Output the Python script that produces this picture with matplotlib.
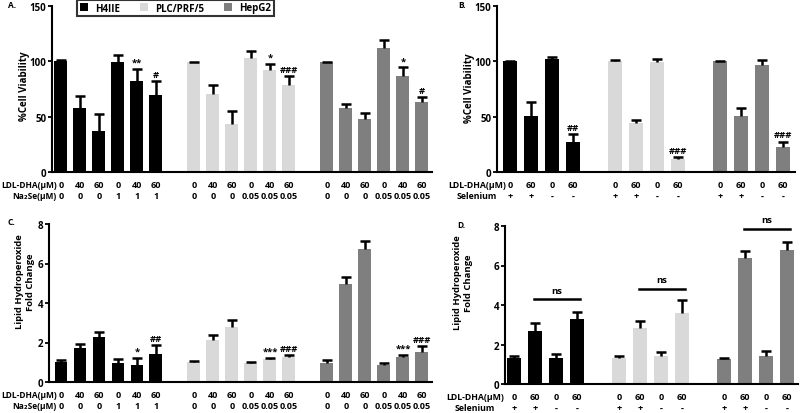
import numpy as np
import matplotlib
matplotlib.use('Agg')
import matplotlib.pyplot as plt
from matplotlib.patches import Patch

plt.rcParams['font.family'] = ['Open Sans', 'DejaVu Sans']
plt.rcParams['font.weight'] = 'bold'
plt.rcParams['font.size'] = 6.5

BLACK = '#000000'
LIGHT = '#d9d9d9'
DARK = '#7f7f7f'
cells = ['H4IIE', 'PLC/PRF/5', 'HepG2']
colors = [BLACK, LIGHT, DARK]

# panel A - cell viability, Na2Se
via_a = [[100, 58, 37, 99, 82, 70],
         [99, 70.5, 43, 103, 92.5, 78.5],
         [99, 57.5, 48, 112, 87, 63.5]]
via_a_err = [[0.8, 11, 15, 7, 11, 12],
             [0.8, 8.5, 12, 6, 5.5, 8],
             [0.8, 4, 5, 7.5, 7.5, 4]]
ldl_a = ['0', '40', '60', '0', '40', '60']
se_a = [['0', '0', '0', '1', '1', '1'],
        ['0', '0', '0', '0.05', '0.05', '0.05'],
        ['0', '0', '0', '0.05', '0.05', '0.05']]
sig_a = [{4: '**', 5: '#'}, {4: '*', 5: '###'}, {4: '*', 5: '#'}]

# panel B - cell viability, selenium +/-
via_b = [[100, 51, 102, 27],
         [100, 44, 99, 12],
         [100, 51, 97, 23]]
via_b_err = [[0.5, 12, 2, 7.5],
             [1, 3, 3, 1.5],
             [0.5, 6.5, 4.5, 4.5]]
ldl_b = ['0', '60', '0', '60']
se_b = ['+', '+', '-', '-']
sig_b = [{3: '##'}, {3: '###'}, {3: '###'}]

# panel C - lipid hydroperoxide, Na2Se
lp_c = [[1.0, 1.74, 2.27, 0.97, 0.88, 1.41],
        [1.0, 2.14, 2.78, 0.98, 1.16, 1.26],
        [0.98, 4.98, 6.75, 0.87, 1.25, 1.53]]
lp_c_err = [[0.09, 0.16, 0.25, 0.2, 0.35, 0.45],
            [0.05, 0.22, 0.36, 0.05, 0.06, 0.1],
            [0.11, 0.36, 0.39, 0.07, 0.13, 0.3]]
sig_c = [{4: '*', 5: '##'}, {4: '***', 5: '###'}, {4: '***', 5: '###'}]

# panel D - lipid hydroperoxide, selenium +/-
lp_d = [[1.31, 2.69, 1.31, 3.28],
        [1.31, 2.83, 1.43, 3.62],
        [1.28, 6.36, 1.40, 6.77]]
lp_d_err = [[0.12, 0.39, 0.21, 0.36],
            [0.1, 0.34, 0.17, 0.62],
            [0.03, 0.37, 0.25, 0.43]]
ns_d = [4.29, 4.83, 7.86]

W, H = 800, 414
fig = plt.figure(figsize=(W / 100, H / 100), dpi=100)


def box(l, r, t, b):
    return [l / W, 1 - b / H, (r - l) / W, (b - t) / H]


def panel(ax, vals, errs, sigs, ldl, se, ylim, yticks, xlim, bw):
    n = len(ldl)
    ticks, labels = [], []
    for g in range(3):
        pos = np.arange(n) + g * (n + 1)
        top = np.array(vals[g]) + np.array(errs[g])
        ax.bar(pos, vals[g], width=bw, color=colors[g], zorder=2)
        # upper error only, with a single cap
        ax.vlines(pos, vals[g], top, color='black', lw=1.8, zorder=3)
        ax.plot(pos, top, ls='none', marker='_', ms=7, mew=1.8, color='black', zorder=3)
        for i, s in sigs[g].items():
            ax.annotate(s, (pos[i], top[i]), xytext=(0, 1.5),
                        textcoords='offset points', ha='center', va='bottom', fontsize=6.8)
        ticks += list(pos)
        sel = se[g] if isinstance(se[0], list) else se
        labels += [a + '\n' + b for a, b in zip(ldl, sel)]
    ax.set_xticks(ticks)
    ax.set_xticklabels(labels, linespacing=1.3)
    ax.tick_params(axis='x', length=0, pad=6)
    ax.tick_params(axis='y', length=3, width=1.3, pad=1, labelsize=7)
    ax.set_ylim(*ylim)
    ax.set_yticks(yticks)
    ax.set_xlim(*xlim)
    for s in ['top', 'right']:
        ax.spines[s].set_visible(False)
    for s in ['left', 'bottom']:
        ax.spines[s].set_linewidth(1.5)


axA = fig.add_axes(box(52, 432, 7, 173))
panel(axA, via_a, via_a_err, sig_a, ldl_a, se_a, (0, 150), [0, 50, 100, 150], (-0.47, 19.53), 0.68)
axB = fig.add_axes(box(497, 795, 7, 173))
panel(axB, via_b, via_b_err, sig_b, ldl_b, se_b, (0, 150), [0, 50, 100, 150], (-0.62, 13.57), 0.66)
axC = fig.add_axes(box(49, 432, 225, 383))
panel(axC, lp_c, lp_c_err, sig_c, ldl_a, se_a, (0, 8), [0, 2, 4, 6, 8], (-0.63, 19.53), 0.68)
axD = fig.add_axes(box(505, 798, 227, 385))
panel(axD, lp_d, lp_d_err, [{}, {}, {}], ldl_b, se_b, (0, 8), [0, 2, 4, 6, 8], (-0.43, 13.52), 0.66)

# ns brackets in D
for g in range(3):
    x0 = 1 + g * 5 - 0.05
    x1 = 3 + g * 5 + 0.15
    axD.plot([x0, x1], [ns_d[g], ns_d[g]], color='black', lw=1.8, clip_on=False)
    axD.text((x0 + x1) / 2, ns_d[g] + 0.22, 'ns', ha='center', va='bottom', fontsize=6.8)

# row labels under x axes
fig.text(57 / W, 1 - 181 / H, 'LDL-DHA(\u00b5M)\nNa\u2082Se(\u00b5M)', ha='right', va='top',
         linespacing=1.3, multialignment='right', fontsize=6)
fig.text(57 / W, 1 - 391 / H, 'LDL-DHA(\u00b5M)\nNa\u2082Se(\u00b5M)', ha='right', va='top',
         linespacing=1.3, multialignment='right', fontsize=6)
fig.text(477 / W, 1 - 181 / H, 'LDL-DHA(\u00b5M)\nSelenium', ha='center', va='top',
         linespacing=1.3, multialignment='center', fontsize=6.3)
fig.text(475 / W, 1 - 393 / H, 'LDL-DHA(\u00b5M)\nSelenium', ha='center', va='top',
         linespacing=1.3, multialignment='center', fontsize=6.3)

# y labels
fig.text(24 / W, 1 - 86 / H, '%Cell Viability', rotation=90, ha='center', va='center', fontsize=7)
fig.text(469 / W, 1 - 88 / H, '%Cell Viability', rotation=90, ha='center', va='center', fontsize=7)
fig.text(25 / W, 1 - 282 / H, 'Lipid Hydroperoxide\nFold Change', rotation=90, ha='center',
         va='center', fontsize=6.8, linespacing=1.2)
fig.text(463 / W, 1 - 283 / H, 'Lipid Hydroperoxide\nFold Change', rotation=90, ha='center',
         va='center', fontsize=6.8, linespacing=1.2)

# panel letters
for x, y, t in [(12, 6, 'A.'), (462, 6, 'B.'), (11, 223, 'C.'), (461, 226, 'D.')]:
    fig.text(x / W, 1 - y / H, t, ha='center', va='center', fontsize=6)

handles = [Patch(facecolor=c) for c in colors]
leg = fig.legend(handles, cells, loc='center', bbox_to_anchor=(175.5 / W, 1 - 9 / H), ncol=3,
                 fontsize=7, frameon=True, fancybox=False, handlelength=0.8, handleheight=0.8,
                 columnspacing=2.0, borderpad=0.3, handletextpad=0.8)
leg.get_frame().set_edgecolor('black')
leg.get_frame().set_linewidth(1.5)

fig.savefig('out.png', dpi=100)
